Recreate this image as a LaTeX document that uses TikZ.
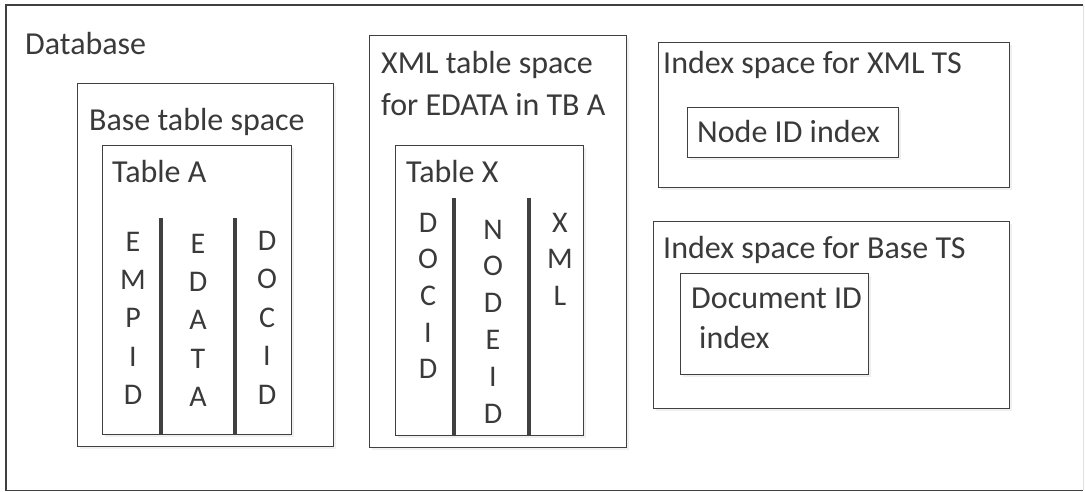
\documentclass[tikz,border=0pt]{standalone}
\usepackage{fontspec}
\setmainfont{Carlito}
\usetikzlibrary{shadows}

\definecolor{linegray}{HTML}{404040}
\definecolor{textgray}{HTML}{3A3A3A}

\tikzset{
  box/.style={draw=linegray, line width=1.4pt, fill=white, inner sep=0pt, anchor=north west,
    drop shadow={opacity=0.12, shadow xshift=2pt, shadow yshift=-2pt}},
  lbl/.style={text=textgray, inner sep=0pt, anchor=base west, font=\fontsize{32}{38}\selectfont},
  letter/.style={text=textgray, inner sep=0pt, anchor=base, font=\fontsize{30}{36}\selectfont},
  colsep/.style={draw=linegray, line width=3.2pt},
}

\begin{document}
\begin{tikzpicture}[x=1pt, y=-1pt]
    \useasboundingbox (0,0) rectangle (1085,491);

    % Outer frame
    \node[inner sep=0pt, anchor=north west, minimum width=1077pt, minimum height=485pt] (db) at (6,5) {};
    \draw[linegray, line width=1.4pt] (db.north east) -- (db.north west) -- (db.south west) -- (db.south east);
    \draw[gray!25, line width=1.4pt] (db.north east) -- (db.south east);
    \node[lbl] (dbtxt) at (25,54) {Database};

    % Base table space
    \node[box, minimum width=256pt, minimum height=363pt] (basets) at (77,83) {};
    \node[lbl] (basetstxt) at (89,130) {Base table space};
    \node[box, minimum width=189pt, minimum height=289pt] (tabA) at (102,145) {};
    \node[lbl] (tabAtxt) at (112,182) {Table A};
    \draw[colsep] (161,218) -- (161,218 |- tabA.south);
    \draw[colsep] (235,218) -- (235,218 |- tabA.south);
    \foreach \ch [count=\i] in {E,M,P,I,D}
        \node[letter] (empid\i) at (133,{251+38.4*(\i-1)}) {\ch};
    \foreach \ch [count=\i] in {E,D,A,T,A}
        \node[letter] (edata\i) at (198,{253+38.4*(\i-1)}) {\ch};
    \foreach \ch [count=\i] in {D,O,C,I,D}
        \node[letter] (docid\i) at (267,{250+38.6*(\i-1)}) {\ch};

    % XML table space
    \node[box, minimum width=257pt, minimum height=412pt] (xmlts) at (369,35) {};
    \node[lbl] (xmltstxta) at (381,73) {XML table space};
    \node[lbl] (xmltstxtb) at (381,115) {for EDATA in TB A};
    \node[box, minimum width=188pt, minimum height=290pt] (tabX) at (395,145) {};
    \node[lbl] (tabXtxt) at (406,182) {Table X};
    \draw[colsep] (454,198) -- (454,198 |- tabX.south);
    \draw[colsep] (529,198) -- (529,198 |- tabX.south);
    \foreach \ch [count=\i] in {D,O,C,I,D}
        \node[letter] (xdocid\i) at (428,{232+36.7*(\i-1)}) {\ch};
    \foreach \ch [count=\i] in {N,O,D,E,I,D}
        \node[letter] (nodeid\i) at (493,{239+36.8*(\i-1)}) {\ch};
    \foreach \ch [count=\i] in {X,M,L}
        \node[letter] (xml\i) at (560,{232+36.7*(\i-1)}) {\ch};

    % Index spaces
    \node[box, minimum width=351pt, minimum height=145pt] (ixxml) at (658,42) {};
    \node[lbl] (ixxmltxt) at (663,73) {Index space for XML TS};
    \node[box, minimum width=211pt, minimum height=50pt] (nodeix) at (687,107) {};
    \node[lbl] (nodeixtxt) at (697,142) {Node ID index};

    \node[box, minimum width=356pt, minimum height=187pt] (ixbase) at (653,221) {};
    \node[lbl] (ixbasetxt) at (663,258) {Index space for Base TS};
    \node[box, minimum width=188pt, minimum height=101pt] (docix) at (680,273) {};
    \node[lbl] (docixtxta) at (691,308) {Document ID};
    \node[lbl] (docixtxtb) at (699,348) {index};
\end{tikzpicture}
\end{document}
